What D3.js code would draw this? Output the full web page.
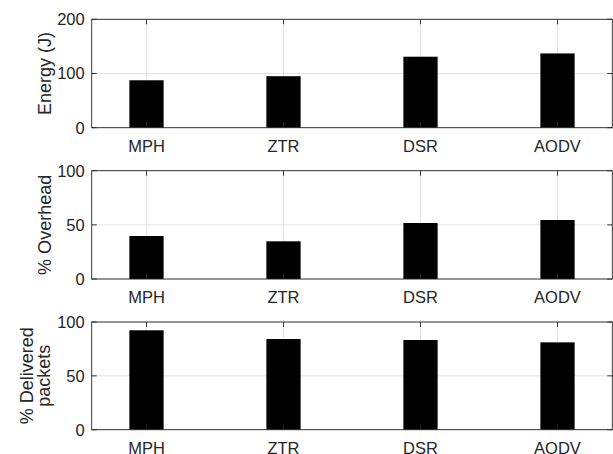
<!DOCTYPE html>
<html>
<head>
<meta charset="utf-8">
<script src="https://cdn.jsdelivr.net/npm/d3@7"></script>
<style>
  body { margin: 0; background: #fff; }
  text { font-family: "Liberation Sans", Arial, Helvetica, sans-serif; fill: #262626; }
</style>
</head>
<body>
<div id="chart-area"></div>
<script>
// Data
var protocols = ["MPH", "ZTR", "DSR", "AODV"];
var energy    = [87.5, 95, 131, 137];
var overhead  = [39.7, 34.8, 51.7, 54.5];
var delivered = [92.3, 84.2, 83.3, 81.1];
var energyTicks = [0, 100, 200];
var pctTicks    = [0, 50, 100];

var width = 613, height = 454;
var left = 91.7, right = 612.3;

var panels = [
  { values: energy,    max: 200, ticks: energyTicks, label: ["Energy (J)"],             top: 19.3,  bottom: 127.7 },
  { values: overhead,  max: 100, ticks: pctTicks,    label: ["% Overhead"],             top: 170.7, bottom: 279 },
  { values: delivered, max: 100, ticks: pctTicks,    label: ["% Delivered", "packets"], top: 322,   bottom: 429.7 }
];

var svg = d3.select("#chart-area").append("svg").attr("width", width).attr("height", height);

// categories sit at 1..4, axis spans 0.6 .. 4.4
var x = d3.scaleLinear().domain([0.6, 4.4]).range([left, right]);
var barW = x(1.25) - x(1);

panels.forEach(function(p) {
  var y = d3.scaleLinear().domain([0, p.max]).range([p.bottom, p.top]);
  var g = svg.append("g");

  // grid
  g.selectAll(".vgrid").data(protocols).enter().append("line")
    .attr("x1", (d, i) => x(i + 1)).attr("x2", (d, i) => x(i + 1))
    .attr("y1", p.top).attr("y2", p.bottom)
    .attr("stroke", "#e3e3e3").attr("stroke-width", 1);
  g.selectAll(".hgrid").data(p.ticks).enter().append("line")
    .attr("x1", left).attr("x2", right)
    .attr("y1", d => y(d)).attr("y2", d => y(d))
    .attr("stroke", "#e3e3e3").attr("stroke-width", 1);

  // bars
  g.selectAll("rect.bar").data(p.values).enter().append("rect")
    .attr("class", "bar")
    .attr("x", (d, i) => x(i + 1) - barW / 2)
    .attr("y", d => y(d))
    .attr("width", barW)
    .attr("height", d => p.bottom - y(d))
    .attr("fill", "#000");

  // box
  g.append("rect").attr("x", left).attr("y", p.top)
    .attr("width", right - left).attr("height", p.bottom - p.top)
    .attr("fill", "none").attr("stroke", "#262626").attr("stroke-width", 0.9);

  // inward ticks
  protocols.forEach(function(c, i) {
    g.append("line").attr("x1", x(i + 1)).attr("x2", x(i + 1)).attr("y1", p.bottom).attr("y2", p.bottom - 5)
      .attr("stroke", "#262626").attr("stroke-width", 0.9);
    g.append("line").attr("x1", x(i + 1)).attr("x2", x(i + 1)).attr("y1", p.top).attr("y2", p.top + 5)
      .attr("stroke", "#262626").attr("stroke-width", 0.9);
  });
  p.ticks.forEach(function(t) {
    g.append("line").attr("x1", left).attr("x2", left + 5).attr("y1", y(t)).attr("y2", y(t))
      .attr("stroke", "#262626").attr("stroke-width", 0.9);
    g.append("line").attr("x1", right).attr("x2", right - 5).attr("y1", y(t)).attr("y2", y(t))
      .attr("stroke", "#262626").attr("stroke-width", 0.9);
  });

  // tick labels
  g.selectAll(".xl").data(protocols).enter().append("text")
    .attr("x", (d, i) => x(i + 1)).attr("y", p.bottom + 24)
    .attr("text-anchor", "middle").attr("font-size", "16.5px").text(d => d);
  g.selectAll(".yl").data(p.ticks).enter().append("text")
    .attr("x", left - 7).attr("y", d => y(d)).attr("dy", "0.36em")
    .attr("text-anchor", "end").attr("font-size", "16.5px").text(d => d);

  // y label
  var cy = (p.top + p.bottom) / 2;
  var baseX = p.label.length > 1 ? [32.5, 49.5] : [51];
  p.label.forEach(function(l, k) {
    g.append("text")
      .attr("transform", "translate(" + baseX[k] + "," + cy + ") rotate(-90)")
      .attr("text-anchor", "middle").attr("font-size", "18px").text(l);
  });
});
</script>
</body>
</html>
